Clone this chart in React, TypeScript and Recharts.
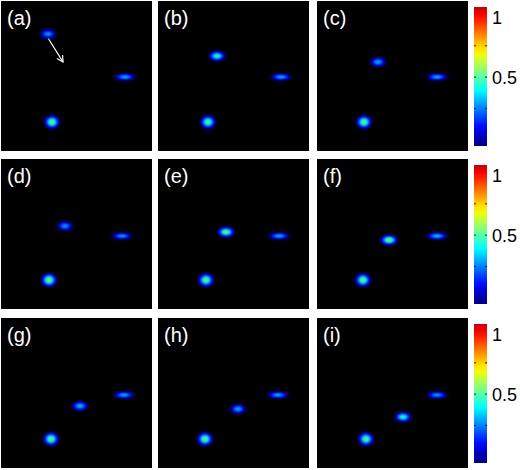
import React from "react";
import { ScatterChart, Scatter, XAxis, YAxis, ReferenceLine, BarChart, Bar } from "recharts";

// panel data (x, y in pixels of a 151x150 frame)
const panelLabels = ["(a)", "(b)", "(c)", "(d)", "(e)", "(f)", "(g)", "(h)", "(i)"];
const spotAX = [47, 59, 61, 64, 68, 72, 79, 80, 86];
const spotAY = [33, 55, 61, 67, 73, 81, 88, 91, 99];
const spotAPeak = [0.28, 0.42, 0.3, 0.28, 0.5, 0.52, 0.32, 0.3, 0.42];
const spotBX = [124, 123, 120, 121, 121, 120, 123, 120, 120];
const spotBY = [76, 76, 76, 77, 77, 77, 77, 77, 77];
const spotBPeak = [0.3, 0.3, 0.3, 0.28, 0.3, 0.32, 0.3, 0.3, 0.28];
const spotCX = [51, 50, 47, 48, 48, 46, 50, 47, 49];
const spotCY = [121, 121, 121, 121, 121, 121, 121, 121, 121];
const spotCPeak = [0.5, 0.48, 0.5, 0.52, 0.5, 0.5, 0.5, 0.5, 0.48];

// arrow in panel (a)
const arrowFrom = { x: 47, y: 37 };
const arrowTo = { x: 62, y: 61 };

const colorTicks = [0, 0.5, 1];
const colorMinorTicks = [0.25, 0.5, 0.75];
const colorDomain: [number, number] = [-0.05, 1.06];

const colLeft = [1, 158, 317];
const rowTop = [1, 159, 318];
const PW = 151;
const PH = 150;
const FONT = "'Liberation Sans', Arial, sans-serif";

const clamp = (v: number) => Math.max(0, Math.min(1, v));
function jet(v: number) {
  const r = clamp(1.5 - Math.abs(4 * v - 3));
  const g = clamp(1.5 - Math.abs(4 * v - 2));
  const b = clamp(1.5 - Math.abs(4 * v - 1));
  return `rgb(${Math.round(r * 255)},${Math.round(g * 255)},${Math.round(b * 255)})`;
}

const spotSize: Record<string, [number, number]> = { A: [11, 7], B: [14, 5.5], C: [10, 9] };

function Spot(props: any) {
  const { cx, cy, payload } = props;
  if (cx == null || cy == null) return null;
  const [rx, ry] = spotSize[payload.kind];
  const id = `g${payload.panel}${payload.kind}`;
  const stops = [];
  for (let i = 0; i <= 12; i++) {
    const t = i / 12;
    const v = payload.peak * Math.exp(-((2.6 * t) ** 2) / 2);
    stops.push(<stop key={i} offset={t} stopColor={jet(v)} stopOpacity={clamp(v / 0.12) * 0.9} />);
  }
  return (
    <g>
      <defs>
        <radialGradient id={id} cx="50%" cy="50%" r="50%">
          {stops}
        </radialGradient>
      </defs>
      <ellipse cx={cx} cy={cy} rx={rx} ry={ry} fill={`url(#${id})`} />
    </g>
  );
}

function Arrow(props: any) {
  const { x1, y1, x2, y2 } = props;
  if (x1 == null) return null;
  const a = Math.atan2(y2 - y1, x2 - x1);
  const L = 7;
  const w = 0.5;
  const p1 = `${x2 - L * Math.cos(a - w)},${y2 - L * Math.sin(a - w)}`;
  const p2 = `${x2 - L * Math.cos(a + w)},${y2 - L * Math.sin(a + w)}`;
  return (
    <g>
      <line x1={x1} y1={y1} x2={x2} y2={y2} stroke="#fff" strokeWidth={1.2} />
      <polyline points={`${p1} ${x2},${y2} ${p2}`} fill="none" stroke="#fff" strokeWidth={1.2} />
    </g>
  );
}

function Panel({ i }: { i: number }) {
  const data = [
    { panel: i, kind: "A", x: spotAX[i], y: spotAY[i], peak: spotAPeak[i] },
    { panel: i, kind: "B", x: spotBX[i], y: spotBY[i], peak: spotBPeak[i] },
    { panel: i, kind: "C", x: spotCX[i], y: spotCY[i], peak: spotCPeak[i] },
  ];
  const left = colLeft[i % 3];
  const top = rowTop[Math.floor(i / 3)];
  return (
    <div style={{ position: "absolute", left, top, width: PW, height: PH, background: "#000" }}>
      <ScatterChart width={PW} height={PH} margin={{ top: 0, right: 0, bottom: 0, left: 0 }}>
        <XAxis type="number" dataKey="x" domain={[0, PW]} hide />
        <YAxis type="number" dataKey="y" domain={[0, PH]} reversed hide />
        <Scatter data={data} shape={<Spot />} isAnimationActive={false} />
        {i === 0 && (
          <ReferenceLine segment={[arrowFrom, arrowTo]} shape={(p: any) => <Arrow {...p} />} />
        )}
      </ScatterChart>
      <span
        style={{
          position: "absolute",
          left: 6,
          top: 6,
          color: "#fff",
          fontFamily: FONT,
          fontSize: 20,
          lineHeight: "22px",
        }}
      >
        {panelLabels[i]}
      </span>
    </div>
  );
}

function ColorBarShape(props: any) {
  const { x, y, width, height } = props;
  const stops = [];
  for (let i = 0; i <= 20; i++) {
    const v = 0.93 - (i / 20) * 0.93;
    stops.push(<stop key={i} offset={i / 20} stopColor={jet(v)} />);
  }
  return (
    <g>
      <defs>
        <linearGradient id="jetbar" x1="0" y1="0" x2="0" y2="1">
          {stops}
        </linearGradient>
      </defs>
      <rect x={x} y={y} width={width} height={height} fill="url(#jetbar)" />
    </g>
  );
}

function ColorBar({ row }: { row: number }) {
  const data = [{ name: "c", range: colorDomain }];
  return (
    <div style={{ position: "absolute", left: 474, top: rowTop[row] + 6 }}>
      <BarChart width={46} height={139} data={data} margin={{ top: 0, right: 0, bottom: 0, left: 0 }} barCategoryGap={0}>
        <XAxis dataKey="name" hide />
        <YAxis
          orientation="right"
          width={33}
          domain={colorDomain}
          ticks={colorTicks}
          tickFormatter={(v: number) => String(v)}
          axisLine={false}
          tickLine={false}
          tickSize={2}
          tickMargin={3}
          tick={{ fill: "#000", fontSize: 18, fontFamily: FONT }}
          allowDataOverflow
        />
        <Bar dataKey="range" shape={<ColorBarShape />} isAnimationActive={false} />
        {colorMinorTicks.map((t) => (
          <ReferenceLine key={t} y={t} stroke="#222" strokeDasharray="2 9 2" />
        ))}
      </BarChart>
    </div>
  );
}

export default function App() {
  return (
    <div style={{ position: "absolute", left: 0, top: 0, width: 520, height: 470, background: "#fff", overflow: "hidden" }}>
      {panelLabels.map((_, i) => (
        <Panel key={i} i={i} />
      ))}
      {[0, 1, 2].map((r) => (
        <ColorBar key={r} row={r} />
      ))}
    </div>
  );
}
